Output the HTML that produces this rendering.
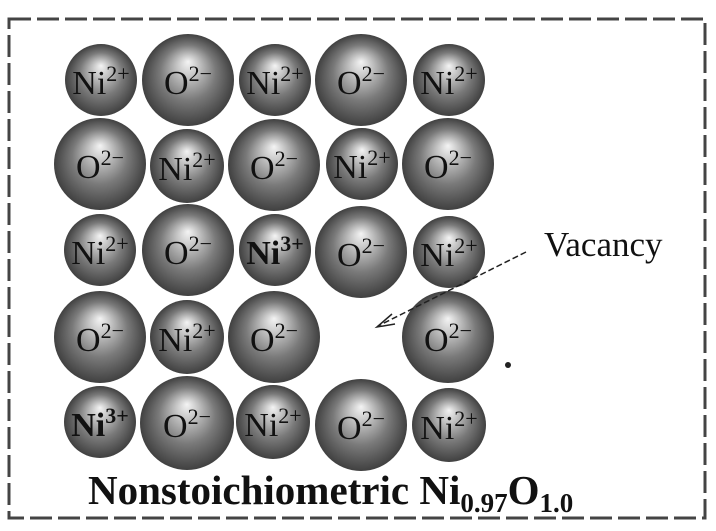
<!DOCTYPE html>
<html><head><meta charset="utf-8"><style>
html,body{margin:0;padding:0;background:#fff;}
svg{display:block;}
text{font-family:"Liberation Serif",serif;}
</style></head><body>
<svg width="716" height="531" viewBox="0 0 716 531" xmlns="http://www.w3.org/2000/svg">
<defs>
<radialGradient id="g" cx="0.5" cy="0.5" r="0.5" fx="0.5" fy="0.3">
<stop offset="0" stop-color="#f4f4f4"/>
<stop offset="0.22" stop-color="#c8c8c8"/>
<stop offset="0.6" stop-color="#7a7a7a"/>
<stop offset="1" stop-color="#404040"/>
</radialGradient>
</defs>
<rect x="9" y="19" width="696" height="499" fill="none" stroke="#444" stroke-width="3" stroke-dasharray="22,6"/>
<g id="atoms" fill="url(#g)">
<circle cx="101" cy="80" r="36"/><circle cx="188" cy="80" r="46"/><circle cx="275" cy="80" r="36"/><circle cx="361" cy="80" r="46"/><circle cx="449" cy="80" r="36"/>
<circle cx="100" cy="164" r="46"/><circle cx="187" cy="166" r="37"/><circle cx="274" cy="165" r="46"/><circle cx="362" cy="164" r="36"/><circle cx="448" cy="164" r="46"/>
<circle cx="100" cy="250" r="36"/><circle cx="188" cy="250" r="46"/><circle cx="275" cy="250" r="36"/><circle cx="361" cy="252" r="46"/><circle cx="449" cy="252" r="36"/>
<circle cx="100" cy="337" r="46"/><circle cx="187" cy="337" r="37"/><circle cx="274" cy="337" r="46"/><circle cx="448" cy="337" r="46"/>
<circle cx="100" cy="422" r="36"/><circle cx="187" cy="423" r="47"/><circle cx="273" cy="422" r="37"/><circle cx="361" cy="425" r="46"/><circle cx="449" cy="425" r="37"/>
</g>
<g font-size="34" fill="#111" text-anchor="middle">
<text x="101" y="94">Ni<tspan font-size="22" dy="-13">2+</tspan></text>
<text x="188" y="94">O<tspan font-size="22" dy="-13">2−</tspan></text>
<text x="275" y="94">Ni<tspan font-size="22" dy="-13">2+</tspan></text>
<text x="361" y="94">O<tspan font-size="22" dy="-13">2−</tspan></text>
<text x="449" y="94">Ni<tspan font-size="22" dy="-13">2+</tspan></text>

<text x="100" y="178">O<tspan font-size="22" dy="-13">2−</tspan></text>
<text x="187" y="180">Ni<tspan font-size="22" dy="-13">2+</tspan></text>
<text x="274" y="179">O<tspan font-size="22" dy="-13">2−</tspan></text>
<text x="362" y="178">Ni<tspan font-size="22" dy="-13">2+</tspan></text>
<text x="448" y="178">O<tspan font-size="22" dy="-13">2−</tspan></text>

<text x="100" y="264">Ni<tspan font-size="22" dy="-13">2+</tspan></text>
<text x="188" y="264">O<tspan font-size="22" dy="-13">2−</tspan></text>
<text x="275" y="264" font-weight="bold">Ni<tspan font-size="22" dy="-13">3+</tspan></text>
<text x="361" y="266">O<tspan font-size="22" dy="-13">2−</tspan></text>
<text x="449" y="266">Ni<tspan font-size="22" dy="-13">2+</tspan></text>

<text x="100" y="351">O<tspan font-size="22" dy="-13">2−</tspan></text>
<text x="187" y="351">Ni<tspan font-size="22" dy="-13">2+</tspan></text>
<text x="274" y="351">O<tspan font-size="22" dy="-13">2−</tspan></text>
<text x="448" y="351">O<tspan font-size="22" dy="-13">2−</tspan></text>

<text x="100" y="436" font-weight="bold">Ni<tspan font-size="22" dy="-13">3+</tspan></text>
<text x="187" y="437">O<tspan font-size="22" dy="-13">2−</tspan></text>
<text x="273" y="436">Ni<tspan font-size="22" dy="-13">2+</tspan></text>
<text x="361" y="439">O<tspan font-size="22" dy="-13">2−</tspan></text>
<text x="449" y="439">Ni<tspan font-size="22" dy="-13">2+</tspan></text>
</g>
<text x="544" y="256" font-size="35" fill="#111">Vacancy</text>
<line x1="526" y1="252" x2="378" y2="326" stroke="#222" stroke-width="1.5" stroke-dasharray="6,3"/>
<polyline points="392,314 377,327 395,324" fill="none" stroke="#222" stroke-width="1.5"/>
<circle cx="508" cy="365" r="3" fill="#222"/>
<text x="88" y="504" font-size="41" font-weight="bold" fill="#111">Nonstoichiometric Ni<tspan font-size="27" dy="8">0.97</tspan><tspan dy="-8">O</tspan><tspan font-size="27" dy="8">1.0</tspan></text>
</svg>
</body></html>
